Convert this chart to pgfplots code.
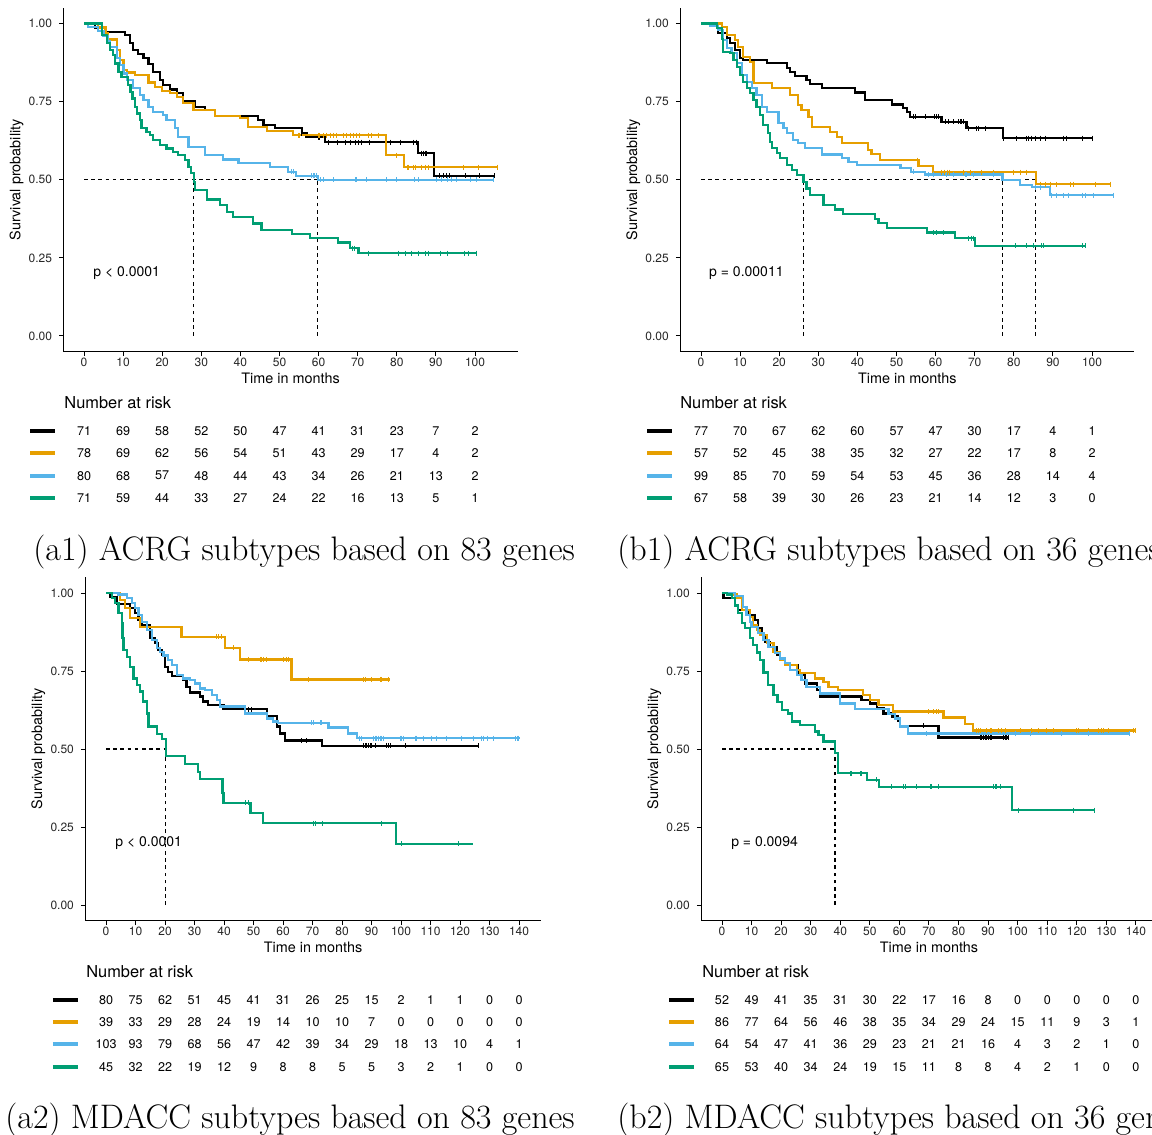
\documentclass[border=0pt]{standalone}
\usepackage{pgfplots}
\usepackage{pgfplotstable}
\pgfplotsset{compat=1.18}
\usepackage{fontspec}
\newfontfamily\helv{TeX Gyre Heros}
\definecolor{kmblack}{HTML}{000000}
\definecolor{kmorange}{HTML}{E69F00}
\definecolor{kmblue}{HTML}{56B4E9}
\definecolor{kmgreen}{HTML}{009E73}

% numbers at risk, one table per panel
\pgfplotstableread{
t   blk org blu grn
0   71  78  80  71
10  69  69  68  59
20  58  62  57  44
30  52  56  48  33
40  50  54  44  27
50  47  51  43  24
60  41  43  34  22
70  31  29  26  16
80  23  17  21  13
90  7   4   13  5
100 2   2   2   1
}\riskAone
\pgfplotstableread{
t   blk org blu grn
0   77  57  99  67
10  70  52  85  58
20  67  45  70  39
30  62  38  59  30
40  60  35  54  26
50  57  32  53  23
60  47  27  45  21
70  30  22  36  14
80  17  17  28  12
90  4   8   14  3
100 1   2   4   0
}\riskBone
\pgfplotstableread{
t   blk org blu grn
0   80  39  103 45
10  75  33  93  32
20  62  29  79  22
30  51  28  68  19
40  45  24  56  12
50  41  19  47  9
60  31  14  42  8
70  26  10  39  8
80  25  10  34  5
90  15  7   29  5
100 2   0   18  3
110 1   0   13  2
120 1   0   10  1
130 0   0   4   0
140 0   0   1   0
}\riskAtwo
\pgfplotstableread{
t   blk org blu grn
0   52  86  64  65
10  49  77  54  53
20  41  64  47  40
30  35  56  41  34
40  31  46  36  24
50  30  38  29  19
60  22  35  23  15
70  17  34  21  11
80  16  29  21  8
90  8   24  16  8
100 0   15  4   4
110 0   11  3   2
120 0   9   2   1
130 0   3   1   0
140 0   1   0   0
}\riskBtwo

\pgfplotsset{
  km/.style={
    clip=false,
    axis x line*=bottom, axis y line*=left,
    axis line style={-, line width=0.55pt, black},
    tick align=outside, major tick length=2.2pt,
    every tick/.style={black, line width=0.5pt},
    y=156.25pt, ymin=-0.05, ymax=1.05,
    ytick={0,0.25,0.5,0.75,1}, yticklabels={0.00,0.25,0.50,0.75,1.00},
    /pgf/number format/assume math mode=true,
    tick label style={font=\helv\fontsize{6}{7}\selectfont, text=black!85},
    xticklabel style={yshift=2.5pt},
    xlabel={Time in months}, ylabel={Survival probability},
    every axis x label/.style={at={(axis description cs:0.5,0)}, anchor=center,
      yshift=-13.2pt, font=\helv\fontsize{7.2}{8}\selectfont},
    every axis y label/.style={at={(axis description cs:0,0.5)}, anchor=center,
      xshift=-23.5pt, rotate=90, font=\helv\fontsize{7.2}{8}\selectfont},
  },
  crv/.style={const plot, no marks, line width=1.1pt},
  cens/.style={only marks, mark=|, mark size=1.25pt, mark options={line width=0.35pt}},
  med/.style={black, line width=0.6pt, dash pattern=on 1.8pt off 1.8pt},
  risk/.style={draw=none, mark=none, nodes near coords, point meta=explicit symbolic,
    every node near coord/.append style={anchor=center, text=black,
      font=\helv\fontsize{6.3}{7}\selectfont}},
  key/.style={line width=2pt, forget plot},
}
\newcommand\riskhead[1]{\node[anchor=west, inner sep=0pt, font=\helv\fontsize{8.2}{9}\selectfont]
  at (axis cs:#1,-0.214) {Number at risk};}
\newcommand\pval[2]{\node[anchor=west, inner sep=0pt, font=\helv\fontsize{7}{8}\selectfont]
  at (axis cs:#1,0.2) {#2};}

\begin{document}
\begin{tikzpicture}
\useasboundingbox (0,0) rectangle (576pt,-567.5pt);
\clip (0,0) rectangle (576pt,-567.5pt);

% ---------------- a1
\begin{axis}[km, at={(31.74pt,-175.8pt)}, anchor=south west,
  x=1.955pt, xmin=-5.25, xmax=110.9, xtick={0,10,...,100}]
\addplot[med] coordinates {(0,0.5) (59.8,0.5)};
\addplot[med] coordinates {(28.1,0) (28.1,0.5)};
\addplot[med] coordinates {(59.8,0) (59.8,0.5)};
\addplot[crv, kmblack] coordinates {(0,1) (2.8,0.986) (5.4,0.974) (10.5,0.963) (11.8,0.937) (12.6,0.915) (13.9,0.902) (15.2,0.889) (16.5,0.87) (17.7,0.846) (19.4,0.819) (20.3,0.803) (22,0.789) (23.7,0.777) (25.4,0.753) (28.4,0.734) (30.9,0.723) (33.5,0.704) (44.6,0.691) (45.9,0.675) (48.8,0.665) (55.7,0.649) (56.9,0.636) (61.6,0.62) (85.5,0.585) (89.5,0.513) (105,0.513)};
\addplot[crv, kmorange] coordinates {(0,1) (3.5,0.987) (5.5,0.97) (6.2,0.949) (8.4,0.915) (9.2,0.883) (10.1,0.851) (10.9,0.843) (13,0.835) (16.5,0.811) (18.2,0.798) (19.9,0.785) (22,0.777) (23.7,0.764) (25.4,0.745) (28,0.723) (33.5,0.704) (39.9,0.697) (42,0.668) (46.7,0.656) (53.5,0.643) (77.2,0.579) (81.9,0.54) (105.7,0.54)};
\addplot[crv, kmblue] coordinates {(0,1) (1,0.99) (3.5,0.975) (5,0.96) (6,0.945) (6.6,0.926) (8.4,0.889) (9.2,0.867) (10.1,0.84) (10.9,0.819) (12.6,0.793) (14.3,0.771) (15.2,0.755) (16.5,0.734) (17.7,0.718) (20.3,0.707) (21.1,0.691) (23.3,0.665) (24.1,0.638) (26.7,0.604) (30.9,0.579) (35.6,0.565) (39.5,0.553) (47.6,0.542) (52.2,0.526) (54.2,0.513) (59.8,0.5) (104.9,0.5)};
\addplot[crv, kmgreen] coordinates {(0,1) (4.5,0.963) (5.8,0.937) (6.6,0.915) (7.5,0.899) (7.9,0.872) (8.8,0.846) (9.6,0.83) (11.3,0.803) (11.9,0.782) (12.4,0.76) (13,0.734) (13.6,0.712) (14.3,0.691) (14.7,0.665) (16,0.654) (16.9,0.643) (17.7,0.627) (19.4,0.611) (21.1,0.6) (22.8,0.59) (24.1,0.579) (25.8,0.563) (26.7,0.542) (27.4,0.521) (28.1,0.493) (28.4,0.467) (31.4,0.437) (34.8,0.419) (36.5,0.398) (38.2,0.382) (43.3,0.36) (45.4,0.339) (53.1,0.326) (57.8,0.313) (65,0.299) (68,0.281) (70.2,0.265) (100.4,0.265)};
\addplot[cens, kmblack] coordinates {(55.7,0.649) (59.9,0.636) (60.3,0.636) (62.5,0.62) (64.8,0.62) (66.8,0.62) (68,0.62) (69.3,0.62) (70.2,0.62) (71,0.62) (73.1,0.62) (78.3,0.62) (80.8,0.62) (84.2,0.62) (85.1,0.62) (86.4,0.585) (86.8,0.585) (87.2,0.585) (87.6,0.585) (91,0.513) (91.8,0.513) (92.6,0.513) (93.5,0.513) (97.6,0.513) (101,0.513) (105,0.513)};
\addplot[cens, kmorange] coordinates {(54.8,0.643) (55.2,0.643) (59.9,0.643) (60.3,0.643) (61.2,0.643) (62,0.643) (62.9,0.643) (63.7,0.643) (64.6,0.643) (66.3,0.643) (67.1,0.643) (68,0.643) (68.8,0.643) (69.7,0.643) (70.5,0.643) (72.7,0.643) (73.5,0.643) (75.3,0.643) (80,0.579) (82.6,0.54) (83,0.54) (84.2,0.54) (84.7,0.54) (86.4,0.54) (87.2,0.54) (88.1,0.54) (97,0.54) (100.9,0.54) (105.6,0.54)};
\addplot[cens, kmblue] coordinates {(53.1,0.526) (53.5,0.526) (58.2,0.513) (58.6,0.513) (59,0.513) (59.5,0.513) (60.4,0.5) (61.2,0.5) (63.8,0.5) (69.3,0.5) (69.7,0.5) (72.3,0.5) (77.4,0.5) (80,0.5) (84.6,0.5) (85.5,0.5) (90.2,0.5) (91.5,0.5) (92.8,0.5) (94,0.5) (95.3,0.5) (98.7,0.5) (100.4,0.5) (104.7,0.5)};
\addplot[cens, kmgreen] coordinates {(68.6,0.281) (69.2,0.281) (72.7,0.265) (80.4,0.265) (82.1,0.265) (83.8,0.265) (85.5,0.265) (87.2,0.265) (88.1,0.265) (91.1,0.265) (92.8,0.265) (97.4,0.265) (98.3,0.265) (100.4,0.265)};
\pval{2.3}{p < 0.0001}
\riskhead{-5.1}
\addplot[kmblack, key] coordinates {(-13.8,-0.304) (-7.4,-0.304)};
\addplot[kmorange, key] coordinates {(-13.8,-0.375) (-7.4,-0.375)};
\addplot[kmblue, key] coordinates {(-13.8,-0.447) (-7.4,-0.447)};
\addplot[kmgreen, key] coordinates {(-13.8,-0.519) (-7.4,-0.519)};
\addplot[risk] table[x=t, y expr=-0.304, meta=blk] {\riskAone};
\addplot[risk] table[x=t, y expr=-0.375, meta=org] {\riskAone};
\addplot[risk] table[x=t, y expr=-0.447, meta=blu] {\riskAone};
\addplot[risk] table[x=t, y expr=-0.519, meta=grn] {\riskAone};
\end{axis}

% ---------------- b1
\begin{axis}[km, at={(340.15pt,-175.8pt)}, anchor=south west,
  x=1.955pt, xmin=-5.3, xmax=110.8, xtick={0,10,...,100}]
\addplot[med] coordinates {(0,0.5) (85.5,0.5)};
\addplot[med] coordinates {(26.2,0) (26.2,0.5)};
\addplot[med] coordinates {(77.1,0) (77.1,0.5)};
\addplot[med] coordinates {(85.5,0) (85.5,0.5)};
\addplot[crv, kmblack] coordinates {(0,1) (4.4,0.969) (6.6,0.953) (7.4,0.937) (8.7,0.915) (10,0.889) (10.8,0.883) (16.8,0.873) (21.9,0.857) (22.8,0.846) (24,0.832) (27,0.819) (27.9,0.806) (30.9,0.793) (39.4,0.779) (41.9,0.755) (48.8,0.741) (51.7,0.729) (52.6,0.718) (53.5,0.702) (61.5,0.686) (67.9,0.665) (77.3,0.633) (100.2,0.633)};
\addplot[crv, kmorange] coordinates {(0,1) (5.3,0.99) (6.6,0.963) (8.7,0.947) (9.5,0.926) (10.8,0.894) (12.5,0.878) (13.4,0.809) (18.1,0.793) (22.8,0.771) (24.9,0.739) (25.7,0.723) (27.5,0.702) (28.3,0.67) (33,0.654) (34.7,0.638) (36,0.617) (42.8,0.595) (43.6,0.582) (45.8,0.563) (55.6,0.545) (59.4,0.524) (85.7,0.486) (104.9,0.486)};
\addplot[crv, kmblue] coordinates {(0,1) (2.3,0.991) (4.4,0.979) (5.7,0.947) (6.6,0.921) (7.8,0.905) (9.1,0.873) (10.4,0.835) (11.7,0.814) (13,0.793) (14.2,0.771) (15.5,0.734) (16.8,0.718) (19.8,0.681) (21.1,0.665) (21.9,0.649) (23.6,0.627) (24.9,0.617) (26.6,0.601) (30.9,0.581) (36,0.569) (37.7,0.558) (39.8,0.547) (51,0.537) (53.7,0.526) (57.3,0.517) (77.1,0.5) (81.6,0.483) (84.6,0.476) (89.3,0.451) (105.5,0.451)};
\addplot[crv, kmgreen] coordinates {(0,1) (4,0.985) (5.3,0.95) (5.7,0.91) (7.4,0.905) (8.3,0.883) (9.1,0.862) (10,0.835) (10.8,0.814) (11.7,0.793) (12.5,0.777) (13.4,0.755) (14.2,0.734) (15.1,0.707) (15.9,0.675) (17.2,0.649) (17.6,0.622) (18.1,0.601) (19.4,0.585) (20.2,0.569) (21.9,0.547) (23.2,0.531) (24.5,0.515) (26.2,0.494) (27,0.472) (27.9,0.451) (31.3,0.419) (34.3,0.405) (36.4,0.39) (44.5,0.375) (45.4,0.361) (47.5,0.345) (57.7,0.331) (65,0.313) (70.1,0.288) (98.2,0.288)};
\addplot[cens, kmblack] coordinates {(54.3,0.702) (54.7,0.702) (57.3,0.702) (59.8,0.702) (60.3,0.702) (60.7,0.702) (62.4,0.686) (63.3,0.686) (64.5,0.686) (65.8,0.686) (66.2,0.686) (66.7,0.686) (67.1,0.686) (68.4,0.665) (70.5,0.665) (71,0.665) (72.6,0.665) (77.3,0.633) (80.7,0.633) (83.3,0.633) (83.7,0.633) (84.6,0.633) (85.4,0.633) (86.7,0.633) (88,0.633) (92.7,0.633) (93.5,0.633) (97.4,0.633) (100.2,0.633)};
\addplot[cens, kmorange] coordinates {(55.2,0.563) (61.5,0.524) (62.2,0.524) (62.9,0.524) (63.6,0.524) (67.1,0.524) (68.8,0.524) (71.8,0.524) (74.8,0.524) (79.9,0.524) (81.6,0.524) (83.3,0.524) (86.7,0.486) (88,0.486) (89.3,0.486) (91,0.486) (94.4,0.486) (95.2,0.486) (100.8,0.486) (104.6,0.486)};
\addplot[cens, kmblue] coordinates {(54.3,0.526) (58.1,0.517) (59.4,0.517) (62.8,0.517) (64.5,0.517) (67.5,0.517) (67.9,0.517) (69.7,0.517) (74.8,0.517) (85.4,0.476) (86.7,0.476) (89.7,0.451) (91,0.451) (92.7,0.451) (94,0.451) (97.4,0.451) (98.2,0.451) (100.3,0.451) (105.4,0.451)};
\addplot[cens, kmgreen] coordinates {(59.4,0.331) (60.3,0.331) (62,0.331) (68.4,0.313) (69.2,0.313) (69.6,0.313) (80.3,0.288) (83.3,0.288) (85,0.288) (87.1,0.288) (87.5,0.288) (97.4,0.288) (98.2,0.288)};
\pval{2.0}{p = 0.00011}
\riskhead{-5.4}
\addplot[kmblack, key] coordinates {(-13.8,-0.304) (-7.4,-0.304)};
\addplot[kmorange, key] coordinates {(-13.8,-0.375) (-7.4,-0.375)};
\addplot[kmblue, key] coordinates {(-13.8,-0.447) (-7.4,-0.447)};
\addplot[kmgreen, key] coordinates {(-13.8,-0.519) (-7.4,-0.519)};
\addplot[risk] table[x=t, y expr=-0.304, meta=blk] {\riskBone};
\addplot[risk] table[x=t, y expr=-0.375, meta=org] {\riskBone};
\addplot[risk] table[x=t, y expr=-0.447, meta=blu] {\riskBone};
\addplot[risk] table[x=t, y expr=-0.519, meta=grn] {\riskBone};
\end{axis}

% ---------------- a2
\begin{axis}[km, at={(42.68pt,-460.3pt)}, anchor=south west, y=156pt,
  x=1.475pt, xmin=-7, xmax=147.4, xtick={0,10,...,140}]
\addplot[med] coordinates {(0,0.5) (20.2,0.5)};
\addplot[med] coordinates {(20.2,0) (20.2,0.5)};
\addplot[crv, kmblack] coordinates {(0,1) (1.5,0.988) (3.6,0.965) (8.1,0.951) (9.8,0.935) (11,0.913) (12.1,0.897) (14.9,0.855) (16.6,0.839) (17.7,0.817) (18.9,0.801) (20,0.764) (21.1,0.748) (22.3,0.734) (26.2,0.721) (27.3,0.7) (28.5,0.681) (31.9,0.668) (33,0.652) (34.7,0.641) (39.8,0.627) (54.5,0.606) (57.9,0.572) (59,0.55) (60.7,0.527) (73.1,0.51) (126.2,0.51)};
\addplot[crv, kmorange] coordinates {(0,1) (4.7,0.978) (6.4,0.951) (8.1,0.919) (11.5,0.892) (25.6,0.86) (40.3,0.825) (45.4,0.787) (62.9,0.723) (96.3,0.723)};
\addplot[crv, kmblue] coordinates {(0,1) (4.2,0.995) (7,0.983) (8.7,0.967) (9.8,0.951) (11,0.93) (12.1,0.908) (13.8,0.881) (15.5,0.849) (17.2,0.823) (18.3,0.812) (19.5,0.8) (21.1,0.785) (22.3,0.769) (24,0.737) (26.2,0.726) (28.5,0.721) (30.2,0.71) (31.9,0.694) (33.6,0.689) (35.8,0.673) (37.5,0.657) (38.6,0.636) (47.1,0.614) (54.5,0.598) (56.7,0.588) (58.4,0.584) (75.4,0.569) (82.1,0.55) (85.2,0.535) (140.4,0.535)};
\addplot[crv, kmgreen] coordinates {(0,1) (1.9,0.985) (3,0.967) (4.2,0.935) (5.3,0.903) (5.6,0.855) (5.9,0.817) (7,0.796) (8.1,0.764) (9.3,0.726) (10.4,0.705) (11.5,0.684) (12.6,0.652) (13.8,0.614) (14.4,0.572) (17.2,0.548) (18.9,0.531) (20.2,0.478) (26.8,0.452) (31.3,0.427) (31.9,0.403) (39.5,0.358) (39.8,0.328) (49,0.294) (53.1,0.262) (98.3,0.196) (124.3,0.196)};
\addplot[cens, kmblack] coordinates {(48.2,0.627) (49.4,0.627) (66.3,0.527) (68,0.527) (87.2,0.51) (87.8,0.51) (88.4,0.51) (88.9,0.51) (89.5,0.51) (90.1,0.51) (91.2,0.51) (95.1,0.51) (95.7,0.51) (96.3,0.51) (101.4,0.51) (126.2,0.51)};
\addplot[cens, kmorange] coordinates {(37.5,0.86) (38.1,0.86) (39.2,0.86) (43.1,0.825) (48.2,0.787) (52.2,0.787) (52.8,0.787) (53.3,0.787) (54.5,0.787) (60.1,0.787) (61.2,0.787) (61.8,0.787) (68.6,0.723) (87.2,0.723) (87.8,0.723) (90.1,0.723) (92.9,0.723) (93.4,0.723) (95.7,0.723)};
\addplot[cens, kmblue] coordinates {(69.7,0.584) (70.3,0.584) (72.5,0.584) (73.1,0.584) (86,0.535) (86.6,0.535) (90.6,0.535) (91.2,0.535) (91.8,0.535) (92.3,0.535) (92.9,0.535) (93.4,0.535) (94,0.535) (99.7,0.535) (100.2,0.535) (100.8,0.535) (104.7,0.535) (105.3,0.535) (107.6,0.535) (110.4,0.535) (112.1,0.535) (115.5,0.535) (120.6,0.535) (124.6,0.535) (127.4,0.535) (128,0.535) (129.1,0.535) (131.4,0.535) (138.7,0.535) (139.3,0.535) (139.8,0.535)};
\addplot[cens, kmgreen] coordinates {(47.1,0.328) (48.2,0.328) (70.3,0.262) (70.8,0.262) (73.4,0.262) (93.4,0.262) (100.2,0.196) (119.4,0.196)};
\pval{3.05}{p < 0.0001}
\riskhead{-6.8}
\addplot[kmblack, key] coordinates {(-18,-0.304) (-9.5,-0.304)};
\addplot[kmorange, key] coordinates {(-18,-0.375) (-9.5,-0.375)};
\addplot[kmblue, key] coordinates {(-18,-0.447) (-9.5,-0.447)};
\addplot[kmgreen, key] coordinates {(-18,-0.519) (-9.5,-0.519)};
\addplot[risk] table[x=t, y expr=-0.304, meta=blk] {\riskAtwo};
\addplot[risk] table[x=t, y expr=-0.375, meta=org] {\riskAtwo};
\addplot[risk] table[x=t, y expr=-0.447, meta=blu] {\riskAtwo};
\addplot[risk] table[x=t, y expr=-0.519, meta=grn] {\riskAtwo};
\end{axis}

% ---------------- b2
\begin{axis}[km, at={(350.65pt,-460.3pt)}, anchor=south west, y=156pt,
  x=1.4785pt, xmin=-7, xmax=147, xtick={0,10,...,140}]
\addplot[med] coordinates {(0,0.5) (38.2,0.5)};
\addplot[med] coordinates {(38.2,0) (38.2,0.5)};
\addplot[crv, kmblack] coordinates {(0,1) (0.5,0.983) (4.4,0.962) (5.5,0.946) (8.9,0.929) (11.2,0.913) (12.3,0.887) (13.4,0.865) (14.5,0.844) (16.2,0.828) (18.5,0.801) (19.6,0.785) (21.3,0.769) (25.8,0.737) (28.1,0.71) (32,0.689) (33.1,0.668) (47.2,0.657) (50,0.646) (52.3,0.63) (54.6,0.614) (57.4,0.604) (59.6,0.59) (60.2,0.574) (73.2,0.537) (96.8,0.537)};
\addplot[crv, kmorange] coordinates {(0,1) (3,0.995) (5,0.983) (6.7,0.946) (9.5,0.924) (10.6,0.897) (11.7,0.881) (12.9,0.865) (15.1,0.839) (17.4,0.812) (19.6,0.785) (21.3,0.769) (25.3,0.753) (26.4,0.743) (31.5,0.726) (34.3,0.716) (36,0.7) (39.3,0.689) (47.8,0.673) (50.1,0.657) (52.9,0.641) (57.9,0.62) (74.9,0.601) (82.2,0.579) (85,0.559) (139.7,0.559)};
\addplot[crv, kmblue] coordinates {(0,1) (4.4,0.99) (7.2,0.956) (8.3,0.93) (9.5,0.908) (10,0.892) (12.3,0.871) (14,0.849) (15.7,0.828) (17.9,0.807) (19.6,0.79) (21.3,0.775) (23,0.753) (25.3,0.737) (26.9,0.721) (28.6,0.7) (33.1,0.678) (39.9,0.646) (45,0.627) (56.3,0.612) (58.5,0.598) (60.2,0.572) (63,0.55) (138,0.55)};
\addplot[crv, kmgreen] coordinates {(0,1) (1.6,0.995) (3.3,0.983) (4.4,0.96) (5.5,0.935) (6.7,0.903) (7.8,0.887) (9.5,0.855) (10.6,0.833) (11.7,0.809) (12.8,0.785) (14,0.745) (15.5,0.705) (17.4,0.673) (18.8,0.65) (20.2,0.625) (22.4,0.614) (23.6,0.588) (26.4,0.577) (31.5,0.556) (32.6,0.545) (34.3,0.524) (38.2,0.488) (39.2,0.422) (48.9,0.401) (53.2,0.379) (98,0.304) (125.9,0.304)};
\addplot[cens, kmblack] coordinates {(68.1,0.574) (87.3,0.537) (87.8,0.537) (88.4,0.537) (88.9,0.537) (89.5,0.537) (90.1,0.537) (90.6,0.537) (91.2,0.537) (95.1,0.537) (95.7,0.537) (96.3,0.537) (96.8,0.537)};
\addplot[cens, kmorange] coordinates {(69.8,0.62) (71.5,0.62) (72.6,0.62) (73.2,0.62) (86.1,0.559) (86.7,0.559) (87.3,0.559) (89.5,0.559) (90.6,0.559) (91.2,0.559) (93.4,0.559) (94.6,0.559) (95.7,0.559) (100.8,0.559) (104.7,0.559) (107,0.559) (109.8,0.559) (112,0.559) (120,0.559) (120.5,0.559) (123.9,0.559) (127.3,0.559) (128.4,0.559) (128.9,0.559) (130.6,0.559) (139.1,0.559) (139.7,0.559)};
\addplot[cens, kmblue] coordinates {(69.2,0.55) (99.1,0.55) (104.2,0.55) (114.9,0.55) (123.9,0.55) (137.8,0.55)};
\addplot[cens, kmgreen] coordinates {(43.3,0.422) (43.8,0.422) (46.7,0.422) (47.2,0.422) (52.1,0.401) (57.4,0.379) (61.3,0.379) (61.9,0.379) (65.8,0.379) (70.3,0.379) (70.9,0.379) (73.2,0.379) (91.8,0.379) (92.3,0.379) (92.9,0.379) (94,0.379) (100.2,0.304) (118.8,0.304) (126,0.304)};
\pval{3.0}{p = 0.0094}
\riskhead{-6.8}
\addplot[kmblack, key] coordinates {(-17.9,-0.304) (-9.5,-0.304)};
\addplot[kmorange, key] coordinates {(-17.9,-0.375) (-9.5,-0.375)};
\addplot[kmblue, key] coordinates {(-17.9,-0.447) (-9.5,-0.447)};
\addplot[kmgreen, key] coordinates {(-17.9,-0.519) (-9.5,-0.519)};
\addplot[risk] table[x=t, y expr=-0.304, meta=blk] {\riskBtwo};
\addplot[risk] table[x=t, y expr=-0.375, meta=org] {\riskBtwo};
\addplot[risk] table[x=t, y expr=-0.447, meta=blu] {\riskBtwo};
\addplot[risk] table[x=t, y expr=-0.519, meta=grn] {\riskBtwo};
\end{axis}

% ---------------- captions
\begin{scope}[every node/.style={anchor=base west, inner sep=0pt, font=\fontsize{17}{20}\selectfont}]
\node at (16.5pt,-280pt) {(a1) ACRG subtypes based on 83 genes};
\node at (308.5pt,-280pt) {(b1) ACRG subtypes based on 36 genes};
\node at (2.5pt,-564pt) {(a2) MDACC subtypes based on 83 genes};
\node at (308.5pt,-564pt) {(b2) MDACC subtypes based on 36 genes};
\end{scope}
\end{tikzpicture}
\end{document}
